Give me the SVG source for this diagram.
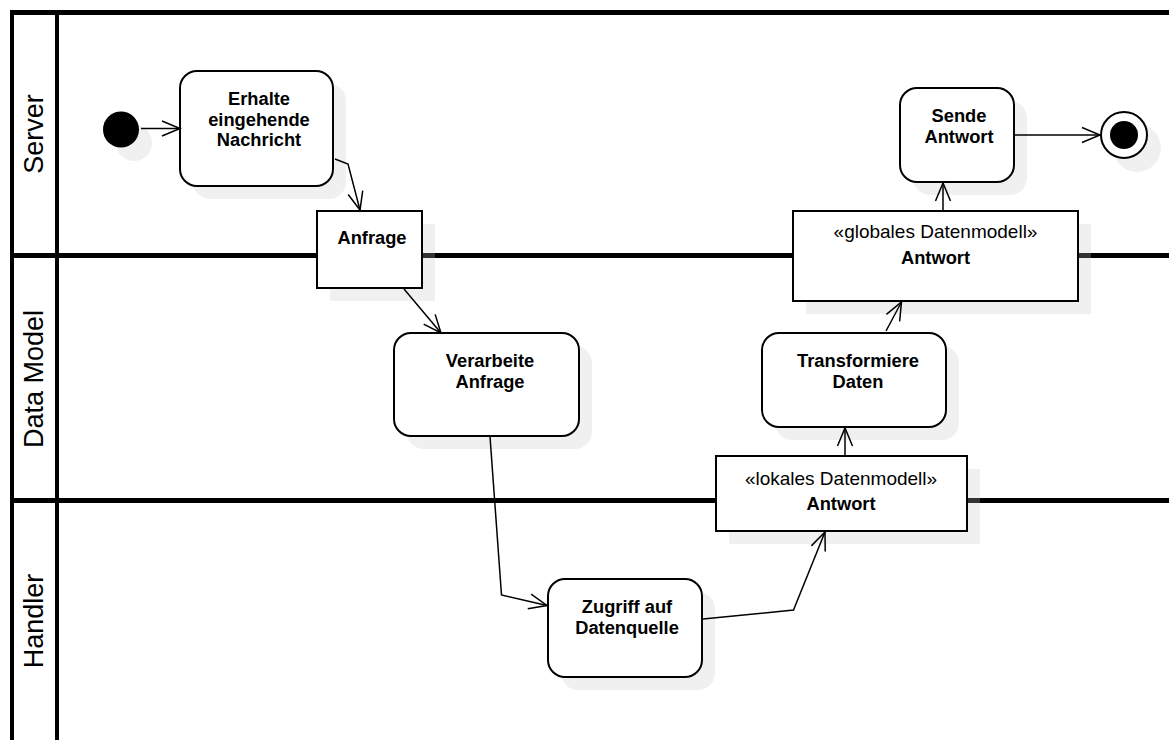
<svg xmlns="http://www.w3.org/2000/svg" width="1169" height="740" viewBox="0 0 1169 740">
<defs>
<style>
.lane{stroke:#000;stroke-width:5;fill:none}
.shadow{fill:#c4c4c4;fill-opacity:0.26;stroke:none}
.act{fill:#fff;stroke:#000;stroke-width:2}
.obj{fill:#fff;stroke:#000;stroke-width:2}
.b{font-family:"Liberation Sans",Arial,sans-serif;font-weight:bold;font-size:18.3px;text-anchor:middle;fill:#000}
.r{font-family:"Liberation Sans",Arial,sans-serif;font-size:19px;text-anchor:middle;fill:#000}
.ln{font-family:"Liberation Sans",Arial,sans-serif;font-size:27px;text-anchor:middle;fill:#000}
.edge{fill:none;stroke:#000;stroke-width:1.5;marker-end:url(#arr)}
</style>
<marker id="arr" markerWidth="22" markerHeight="20" refX="19" refY="9" orient="auto" markerUnits="userSpaceOnUse" style="overflow:visible">
<path d="M1,1.5 L19,9 L1,16.5" fill="none" stroke="#000" stroke-width="1.5"/>
</marker>
</defs>
<rect width="1169" height="740" fill="#fff"/>
<g id="lanes">
<line class="lane" x1="10" y1="12.5" x2="1169" y2="12.5"/>
<line class="lane" x1="12" y1="10" x2="12" y2="740" style="stroke-width:4"/>
<line class="lane" x1="57" y1="12" x2="57" y2="740" style="stroke-width:4"/>
<line class="lane" x1="10" y1="255.5" x2="1169" y2="255.5"/>
<line class="lane" x1="10" y1="500.5" x2="1169" y2="500.5"/>
<text class="ln" transform="translate(43,134) rotate(-90)">Server</text>
<text class="ln" transform="translate(43,379) rotate(-90)">Data Model</text>
<text class="ln" transform="translate(43,621) rotate(-90)">Handler</text>
</g>
<g id="shadows">
<circle class="shadow" cx="134" cy="143" r="18"/>
<rect class="shadow" x="193" y="84" width="153" height="115" rx="17"/>
<rect class="shadow" x="330" y="224" width="105" height="77"/>
<rect class="shadow" x="407" y="346" width="185" height="103" rx="17"/>
<rect class="shadow" x="561" y="592" width="154" height="98" rx="17"/>
<rect class="shadow" x="729" y="469" width="251" height="75"/>
<rect class="shadow" x="775" y="346" width="184" height="94" rx="17"/>
<rect class="shadow" x="806" y="224" width="285" height="90"/>
<rect class="shadow" x="913" y="101" width="114" height="94" rx="17"/>
<circle class="shadow" cx="1137" cy="148" r="24"/>
</g>
<g id="initial">
<circle cx="121" cy="129.5" r="18" fill="#000"/>
</g>
<g id="erhalte">
<rect class="act" x="180" y="71" width="153" height="115" rx="17"/>
<text class="b" x="259" y="105">Erhalte</text>
<text class="b" x="259" y="125.5">eingehende</text>
<text class="b" x="259" y="146">Nachricht</text>
</g>
<g id="anfrage">
<rect class="obj" x="317" y="211" width="105" height="77"/>
<text class="b" x="372" y="244">Anfrage</text>
</g>
<g id="verarbeite">
<rect class="act" x="394" y="333" width="185" height="103" rx="17"/>
<text class="b" x="490" y="366.5">Verarbeite</text>
<text class="b" x="490" y="388">Anfrage</text>
</g>
<g id="zugriff">
<rect class="act" x="548" y="579" width="154" height="98" rx="17"/>
<text class="b" x="627" y="612.5">Zugriff auf</text>
<text class="b" x="627" y="633.5">Datenquelle</text>
</g>
<g id="lokales">
<rect class="obj" x="716" y="456" width="251" height="75"/>
<text class="r" x="841" y="485">«lokales Datenmodell»</text>
<text class="b" x="841" y="510">Antwort</text>
</g>
<g id="transformiere">
<rect class="act" x="762" y="333" width="184" height="94" rx="17"/>
<text class="b" x="858" y="366.5">Transformiere</text>
<text class="b" x="858" y="387.5">Daten</text>
</g>
<g id="globales">
<rect class="obj" x="793" y="211" width="285" height="90"/>
<text class="r" x="935.5" y="238">«globales Datenmodell»</text>
<text class="b" x="935.5" y="264">Antwort</text>
</g>
<g id="sende">
<rect class="act" x="900" y="88" width="114" height="94" rx="17"/>
<text class="b" x="959" y="122">Sende</text>
<text class="b" x="959" y="142.5">Antwort</text>
</g>
<g id="final">
<circle cx="1124" cy="135" r="23" fill="#fff" stroke="#000" stroke-width="2"/>
<circle cx="1124" cy="135" r="14" fill="#000"/>
</g>
<g id="connectors">
<path class="edge" d="M141,128.5 L180,128.5"/>
<path class="edge" d="M335,159 L348,164 L360,210"/>
<path class="edge" d="M404,289 L441,333"/>
<path class="edge" d="M490,436.5 L501.5,595 L547,605.5"/>
<path class="edge" d="M703,619 L793.5,610 L825,532"/>
<path class="edge" d="M845,455 L845,428"/>
<path class="edge" d="M886,331 L901.5,302"/>
<path class="edge" d="M943,211 L943,183"/>
<path class="edge" d="M1015,135 L1100,135"/>
</g>
</svg>
